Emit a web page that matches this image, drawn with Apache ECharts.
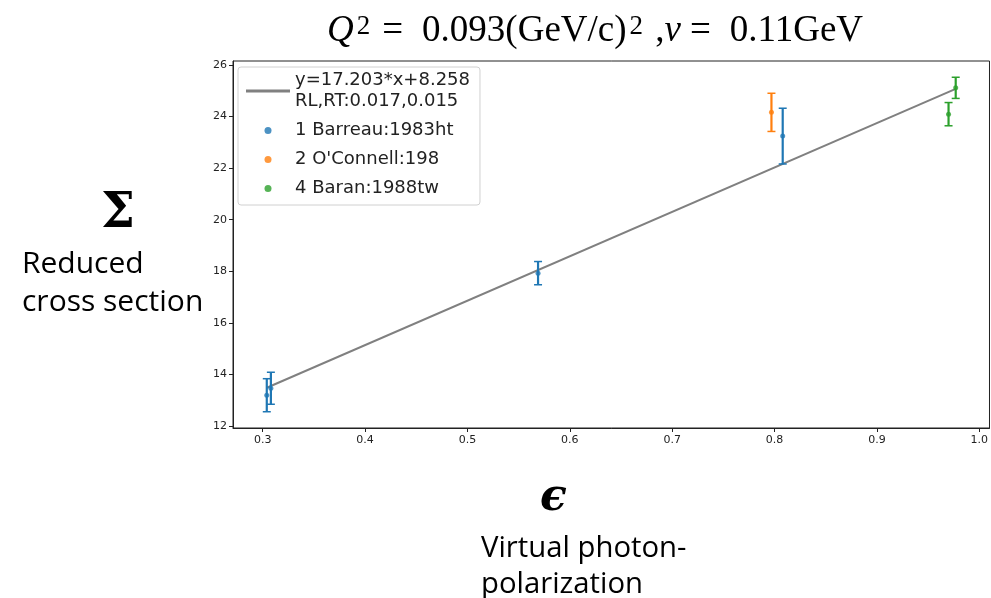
<!DOCTYPE html>
<html><head><meta charset="utf-8">
<script src="https://cdn.jsdelivr.net/npm/echarts@6/dist/echarts.min.js"></script>
<style>html,body{margin:0;padding:0;background:#fff}#c{width:991px;height:598px}</style>
</head><body><div id="c"></div>
<script>
// ---- data ----
const xTicks = [0.3, 0.4, 0.5, 0.6, 0.7, 0.8, 0.9, 1.0];
const yTicks = [12, 14, 16, 18, 20, 22, 24, 26];

const fitName = 'y=17.203*x+8.258\nRL,RT:0.017,0.015';
const fitX = [0.304, 0.977];
const fitY = [13.49, 25.07];

const blueName = '1 Barreau:1983ht';
const blueX = [0.304, 0.308, 0.569, 0.808];
const blueY = [13.20, 13.47, 17.93, 23.24];
const blueErr = [0.64, 0.62, 0.45, 1.08];

const orangeName = "2 O'Connell:198";
const orangeX = [0.797];
const orangeY = [24.16];
const orangeErr = [0.74];

const greenName = '4 Baran:1988tw';
const greenX = [0.977, 0.970];
const greenY = [25.11, 24.09];
const greenErr = [0.41, 0.45];

// ---- build ----
const C = {blue:'#1f77b4', orange:'#ff7f0e', green:'#2ca02c', gray:'#808080'};
function pts(xs, ys){ return xs.map((x,i)=>[x, ys[i]]); }
function errData(xs, ys, es){ return xs.map((x,i)=>[x, ys[i]-es[i], ys[i]+es[i]]); }
function errSeries(xs, ys, es, color){
  return {
    type:'custom', z:4, silent:true,
    data: errData(xs, ys, es),
    renderItem(params, api){
      const lo = api.coord([api.value(0), api.value(1)]);
      const hi = api.coord([api.value(0), api.value(2)]);
      const cw = 4;
      const st = {stroke: color, lineWidth: 2.2};
      return {type:'group', children:[
        {type:'line', shape:{x1:lo[0], y1:lo[1], x2:hi[0], y2:hi[1]}, style:st},
        {type:'line', shape:{x1:lo[0]-cw, y1:lo[1], x2:lo[0]+cw, y2:lo[1]}, style:{stroke:color, lineWidth:1.5}},
        {type:'line', shape:{x1:hi[0]-cw, y1:hi[1], x2:hi[0]+cw, y2:hi[1]}, style:{stroke:color, lineWidth:1.5}}
      ]};
    }
  };
}
function dotSeries(name, xs, ys, color){
  return {type:'scatter', name, z:5, symbolSize:5, itemStyle:{color}, data: pts(xs, ys)};
}

const chart = echarts.init(document.getElementById('c'), null, {renderer:'canvas'});
const tickFont = {fontFamily:'DejaVu Sans', fontSize:11, color:'#222'};
chart.setOption({
  animation:false,
  grid:{left:233, top:61, right:1, bottom:170, show:true, borderColor:'#222', borderWidth:1, backgroundColor:'transparent'},
  xAxis:{type:'value', min:0.271, max:1.01,
    axisLine:{show:true, onZero:false, lineStyle:{color:'#222'}},
    axisTick:{show:true, inside:false, length:4, customValues:xTicks, lineStyle:{color:'#222'}},
    axisLabel:Object.assign({customValues:xTicks, margin:7, formatter:v=>v.toFixed(1)}, tickFont),
    splitLine:{show:false}},
  yAxis:{type:'value', min:11.93, max:26.15,
    axisLine:{show:true, onZero:false, lineStyle:{color:'#222'}},
    axisTick:{show:true, inside:false, length:4, customValues:yTicks, lineStyle:{color:'#222'}},
    axisLabel:Object.assign({customValues:yTicks, margin:6}, tickFont),
    splitLine:{show:false}},
  legend:{
    orient:'vertical', left:238, top:67, padding:[3,10,6,8],
    backgroundColor:'rgba(255,255,255,0.9)', borderColor:'#d0d0d0', borderWidth:1, borderRadius:3,
    itemWidth:44, itemHeight:7, itemGap:8,
    textStyle:{fontFamily:'DejaVu Sans', fontSize:18, color:'#222', lineHeight:21},
    data:[
      {name:fitName, icon:'path://M0,0h44v3h-44z', itemStyle:{color:C.gray}},
      {name:blueName, icon:'circle'},
      {name:orangeName, icon:'circle'},
      {name:greenName, icon:'circle'}
    ]
  },
  series:[
    {type:'line', name:fitName, z:3, symbol:'none', data:pts(fitX, fitY),
      lineStyle:{color:C.gray, width:2}, itemStyle:{color:C.gray}},
    errSeries(blueX, blueY, blueErr, C.blue),
    errSeries(orangeX, orangeY, orangeErr, C.orange),
    errSeries(greenX, greenY, greenErr, C.green),
    dotSeries(blueName, blueX, blueY, C.blue),
    dotSeries(orangeName, orangeX, orangeY, C.orange),
    dotSeries(greenName, greenX, greenY, C.green)
  ],
  graphic:[
    {type:'text', x:327, y:13, style:{
      text:'{i|Q}{s|2}{e|=}0.093(GeV/c){s|2} ,{i|ν}{e|=}0.11GeV',
      font:'37px "Liberation Serif"', fill:'#000',
      rich:{i:{fontStyle:'italic', fontSize:37, fontFamily:'Liberation Serif'},
            e:{fontSize:37, fontFamily:'Liberation Serif', padding:[0,19,0,9]},
            s:{fontSize:27, fontFamily:'Liberation Serif', verticalAlign:'top', padding:[0,3,10,3]}}
    }},
    {type:'text', x:101, y:191, style:{text:'Σ', font:'bold 48px "DejaVu Serif"', fill:'#000'}},
    {type:'text', x:22, y:245, style:{text:'Reduced\ncross section', font:'30px "Open Sans"', lineHeight:38, fill:'#000'}},
    {type:'text', x:540, y:477, style:{text:'ϵ', font:'italic bold 44px "DejaVu Serif"', fill:'#000'}},
    {type:'text', x:481, y:531, style:{text:'Virtual photon-\npolarization', font:'29.3px "Open Sans"', lineHeight:36, fill:'#000'}}
  ]
});
</script></body></html>
